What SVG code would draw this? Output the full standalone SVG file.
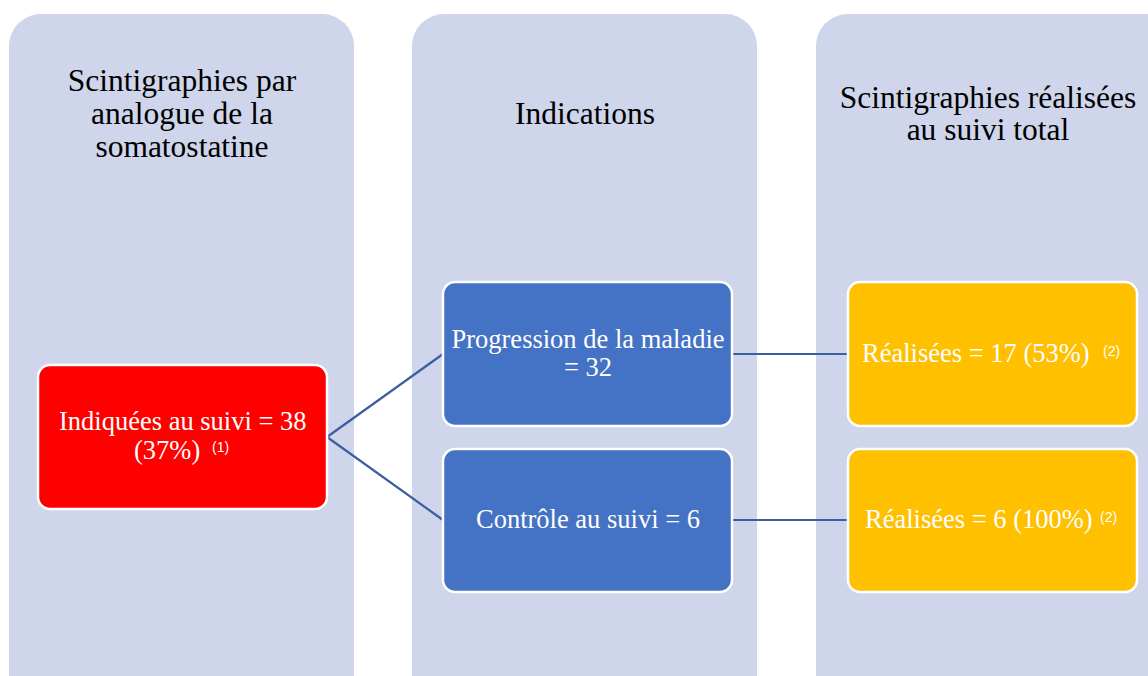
<svg xmlns="http://www.w3.org/2000/svg" width="1148" height="676" viewBox="0 0 1148 676">
<style>
.col{fill:#CFD5EA;}
.hdr{font-family:"Liberation Serif","Times New Roman",serif;font-size:31.5px;fill:#000;text-anchor:middle;}
.box{stroke:#fff;stroke-width:2.5;}
.red{fill:#FF0000;}
.blue{fill:#4472C4;}
.yel{fill:#FFC000;}
.t{font-family:"Liberation Serif","Times New Roman",serif;font-size:26.5px;fill:#fff;text-anchor:middle;}
.ts{font-family:"Liberation Serif","Times New Roman",serif;font-size:26.5px;fill:#fff;}
.sup{font-family:"Liberation Sans",Arial,sans-serif;font-size:14px;fill:#fff;}
.conn{stroke:#3B5EA0;stroke-width:2.2;fill:none;}
</style>
<rect width="1148" height="676" fill="#fff"/>
<g id="col1">
<rect class="col" x="9" y="14" width="345" height="700" rx="32"/>
<text class="hdr"><tspan x="182" y="91">Scintigraphies par</tspan><tspan x="182" y="124">analogue de la</tspan><tspan x="182" y="157">somatostatine</tspan></text>
</g>
<g id="col2">
<rect class="col" x="412" y="14" width="345" height="700" rx="32"/>
<text class="hdr" x="585" y="124">Indications</text>
</g>
<g id="col3">
<rect class="col" x="816" y="14" width="380" height="700" rx="32"/>
<text class="hdr"><tspan x="988" y="108">Scintigraphies réalisées</tspan><tspan x="988" y="140">au suivi total</tspan></text>
</g>
<g id="connectors">
<path class="conn" d="M327,437 L443,354"/>
<path class="conn" d="M327,437 L443,520"/>
<path class="conn" d="M732,354 L848,354"/>
<path class="conn" d="M732,520 L848,520"/>
</g>
<g id="n_indiquees">
<rect class="box red" x="38" y="365" width="289" height="144" rx="12"/>
<text class="ts"><tspan x="59" y="430">Indiquées au suivi = 38</tspan><tspan x="134" y="459">(37%)</tspan></text>
<text class="sup" x="212" y="452">(1)</text>
</g>
<g id="n_progression">
<rect class="box blue" x="443" y="282" width="289" height="144" rx="12"/>
<text class="t"><tspan x="588" y="348">Progression de la maladie</tspan><tspan x="588" y="376">= 32</tspan></text>
</g>
<g id="n_controle">
<rect class="box blue" x="443" y="449" width="289" height="143" rx="12"/>
<text class="t" x="588" y="528">Contrôle au suivi = 6</text>
</g>
<g id="n_realisees17">
<rect class="box yel" x="848" y="282" width="289" height="144" rx="12"/>
<text class="ts" x="862" y="362">Réalisées = 17 (53%)</text>
<text class="sup" x="1103" y="356">(2)</text>
</g>
<g id="n_realisees6">
<rect class="box yel" x="848" y="449" width="289" height="143" rx="12"/>
<text class="ts" x="865" y="528">Réalisées = 6 (100%)</text>
<text class="sup" x="1100" y="522">(2)</text>
</g>
</svg>
